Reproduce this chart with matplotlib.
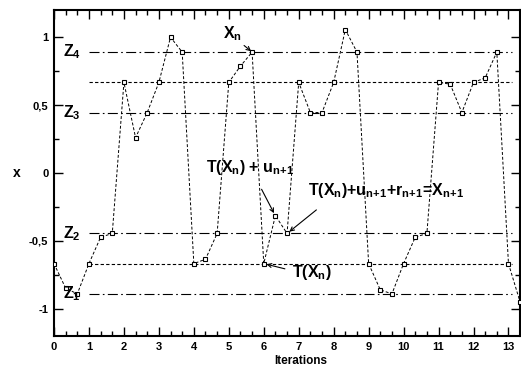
import matplotlib
matplotlib.use("Agg")
import matplotlib.pyplot as plt
from matplotlib.ticker import MultipleLocator, FixedLocator

plt.rcParams['font.family'] = ['Liberation Sans', 'DejaVu Sans']
plt.rcParams['font.weight'] = 'bold'
plt.rcParams['mathtext.fontset'] = 'custom'
plt.rcParams['mathtext.rm'] = 'Liberation Sans:bold'
plt.rcParams['mathtext.it'] = 'Liberation Sans:bold'
plt.rcParams['mathtext.bf'] = 'Liberation Sans:bold'
plt.rcParams['mathtext.sf'] = 'Liberation Sans:bold'

# Data: iterations at steps of 1/3
iterations = [k / 3 for k in range(41)]
x_values = [-0.667, -0.848, -0.89, -0.667, -0.473, -0.445,
            0.667, 0.26, 0.445, 0.667, 1.0, 0.89,
            -0.667, -0.635, -0.445, 0.667, 0.787, 0.89,
            -0.667, -0.314, -0.445, 0.667, 0.445, 0.445,
            0.667, 1.056, 0.89, -0.667, -0.86, -0.89,
            -0.667, -0.473, -0.445, 0.667, 0.654, 0.445,
            0.667, 0.70, 0.89, -0.667, -0.95]

z_levels = [-0.89, -0.445, 0.445, 0.89]
z_names = ['$Z_1$', '$Z_2$', '$Z_3$', '$Z_4$']
mid_levels = [-0.667, 0.667]

xticks = list(range(14))
yticks = [-1, -0.5, 0, 0.5, 1]
ytick_labels = ['-1', '-0,5', '0', '0,5', '1']

fig = plt.figure(figsize=(5.21, 3.65), dpi=100)
ax = fig.add_axes([54 / 521, 29 / 365, 466 / 521, 326 / 365])

line_x0, line_x1 = 1.0, 13.1
for lv in z_levels:
    ax.plot([line_x0, line_x1], [lv, lv], color='black', lw=0.8,
            dashes=(9, 3, 1.5, 3), zorder=1)
for lv in mid_levels:
    ax.plot([line_x0, line_x1], [lv, lv], color='black', lw=0.8,
            dashes=(3, 2), zorder=1)

ax.plot(iterations, x_values, color='black', lw=0.7, dashes=(3, 2),
        marker='s', markersize=3.5, markerfacecolor='white',
        markeredgecolor='black', markeredgewidth=0.8, zorder=3,
        clip_on=True)

ax.set_xlim(0, 13.33)
ax.set_ylim(-1.2, 1.2)
ax.xaxis.set_major_locator(FixedLocator(xticks))
ax.xaxis.set_minor_locator(MultipleLocator(1 / 3))
ax.yaxis.set_major_locator(FixedLocator(yticks))
ax.set_yticklabels(ytick_labels)
ax.yaxis.set_minor_locator(MultipleLocator(0.25))
ax.tick_params(which='both', direction='in', top=True, right=True,
               width=1.0, labelsize=8)
ax.tick_params(which='major', length=6.5, pad=4)
ax.tick_params(which='minor', length=3.5)
for lab in ax.get_xticklabels() + ax.get_yticklabels():
    lab.set_fontweight('bold')
for sp in ax.spines.values():
    sp.set_linewidth(1.5)

# axis labels
fig.text(17 / 521, (365 - 173) / 365, 'x', fontsize=10, fontweight='bold',
         ha='center', va='center')
fig.text(301 / 521, (365 - 354.5) / 365, 'Iterations', fontsize=8.5,
         fontweight='bold', ha='center', va='top')

# Z labels
for lv, nm in zip(z_levels, z_names):
    ax.text(0.26, lv, nm, fontsize=11.5, ha='left', va='center')

fs = 11.5
arrow = dict(arrowstyle='->', lw=0.8, color='black', mutation_scale=7)
ax.annotate('$X_n$', xy=(5.67, 0.89), xytext=(4.82, 0.99), fontsize=fs,
            ha='left', va='baseline',
            arrowprops=dict(arrow, shrinkA=0, shrinkB=1, relpos=(1.0, 0.0)))
ax.annotate('T($X_n$) + $u_{n\\!+\\!1}$', xy=(6.33, -0.314),
            xytext=(4.36, 0.01), fontsize=fs, ha='left', va='baseline',
            arrowprops=dict(arrow, shrinkA=8, shrinkB=2, relpos=(0.55, 0.0)))
ax.annotate('T($X_n$)+$u_{n\\!+\\!1}$+$r_{n\\!+\\!1}$=$X_{n\\!+\\!1}$',
            xy=(6.67, -0.445), xytext=(7.27, -0.163), fontsize=fs,
            ha='left', va='baseline',
            arrowprops=dict(arrow, shrinkA=8, shrinkB=2, relpos=(0.13, 0.0)))
ax.annotate('T($X_n$)', xy=(6.0, -0.667), xytext=(6.8, -0.765),
            fontsize=fs, ha='left', va='baseline',
            arrowprops=dict(arrow, shrinkA=3, shrinkB=2, relpos=(0.0, 0.6)))

fig.savefig('out.png', dpi=100)
